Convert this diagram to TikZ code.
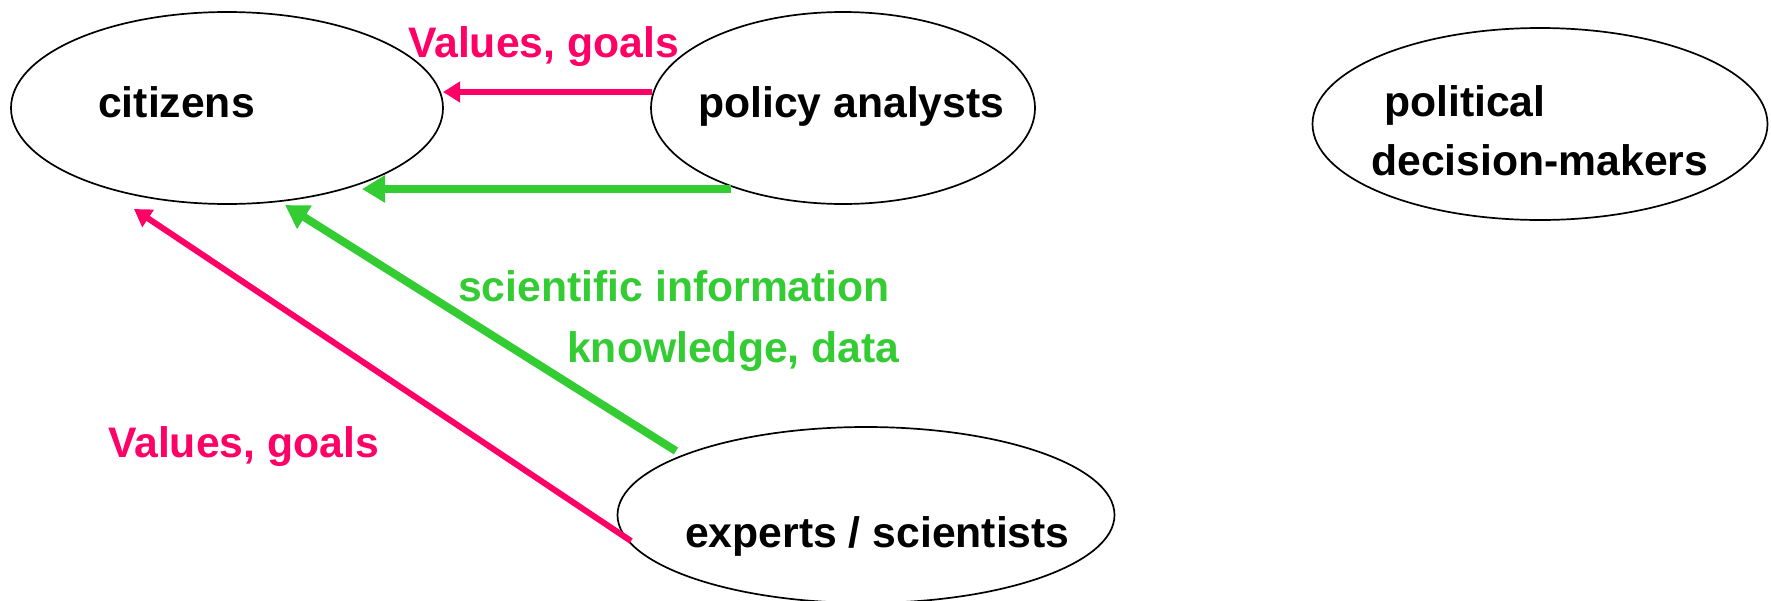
\documentclass[tikz,border=0pt]{standalone}
\usepackage{fontspec}
\setmainfont{Liberation Sans}
\usetikzlibrary{shapes.geometric,arrows.meta}
\definecolor{vred}{HTML}{FF0066}
\definecolor{vgreen}{HTML}{33CC33}
\tikzset{
  actor/.style={draw=black, line width=1.7pt, ellipse, inner sep=0pt, outer sep=0pt},
  lbl/.style={inner sep=0pt, anchor=base west, font=\fontsize{42.7}{50}\selectfont\bfseries},
  redarrow/.style={draw=vred, line width=6pt, -{Triangle[length=17pt,width=20pt]}},
  greenarrow/.style={draw=vgreen, line width=8pt, -{Triangle[length=23pt,width=26pt]}}
}
\begin{document}
\begin{tikzpicture}[x=1pt,y=-1pt]
\useasboundingbox (0,0) rectangle (1771,600);
% ellipses
\node[actor, minimum width=432pt, minimum height=192pt] (cit) at (227,108) {};
\node[actor, minimum width=384pt, minimum height=192pt] (pa) at (843,108) {};
\node[actor, minimum width=455pt, minimum height=192pt] (pdm) at (1540,124) {};
\node[actor, minimum width=497pt, minimum height=176pt] (ex) at (866,515) {};
% texts
\node[lbl] (tcit) at (98,117) {citizens};
\node[lbl] (tpa) at (698,117) {policy analysts};
\node[lbl] (tpol) at (1384,116) {political};
\node[lbl] (tdec) at (1371,175) {decision-makers};
\node[lbl] (tex) at (685,547) {experts / scientists};
\node[lbl, text=vred] (tvg1) at (408,57) {Values, goals};
\node[lbl, text=vred] (tvg2) at (108,457) {Values, goals};
\node[lbl, text=vgreen] (tsci) at (458,301) {scientific information};
\node[lbl, text=vgreen] (tkno) at (567,362) {knowledge, data};
% arrow end points
\coordinate (rtip) at (443,92);
\coordinate (rstart) at (652,92);
\coordinate (gtip) at (362,189);
\coordinate (gstart) at (731,189);
\coordinate (gdstart) at (676,451);
\coordinate (gdtip) at (285,205);
\coordinate (rdstart) at (631,541);
\coordinate (rdtip) at (134,209);
% connectors
\draw[redarrow] (rstart) -- (rtip);
\draw[greenarrow] (gstart) -- (gtip);
\draw[greenarrow] (gdstart) -- (gdtip);
\draw[redarrow] (rdstart) -- (rdtip);
\end{tikzpicture}
\end{document}
